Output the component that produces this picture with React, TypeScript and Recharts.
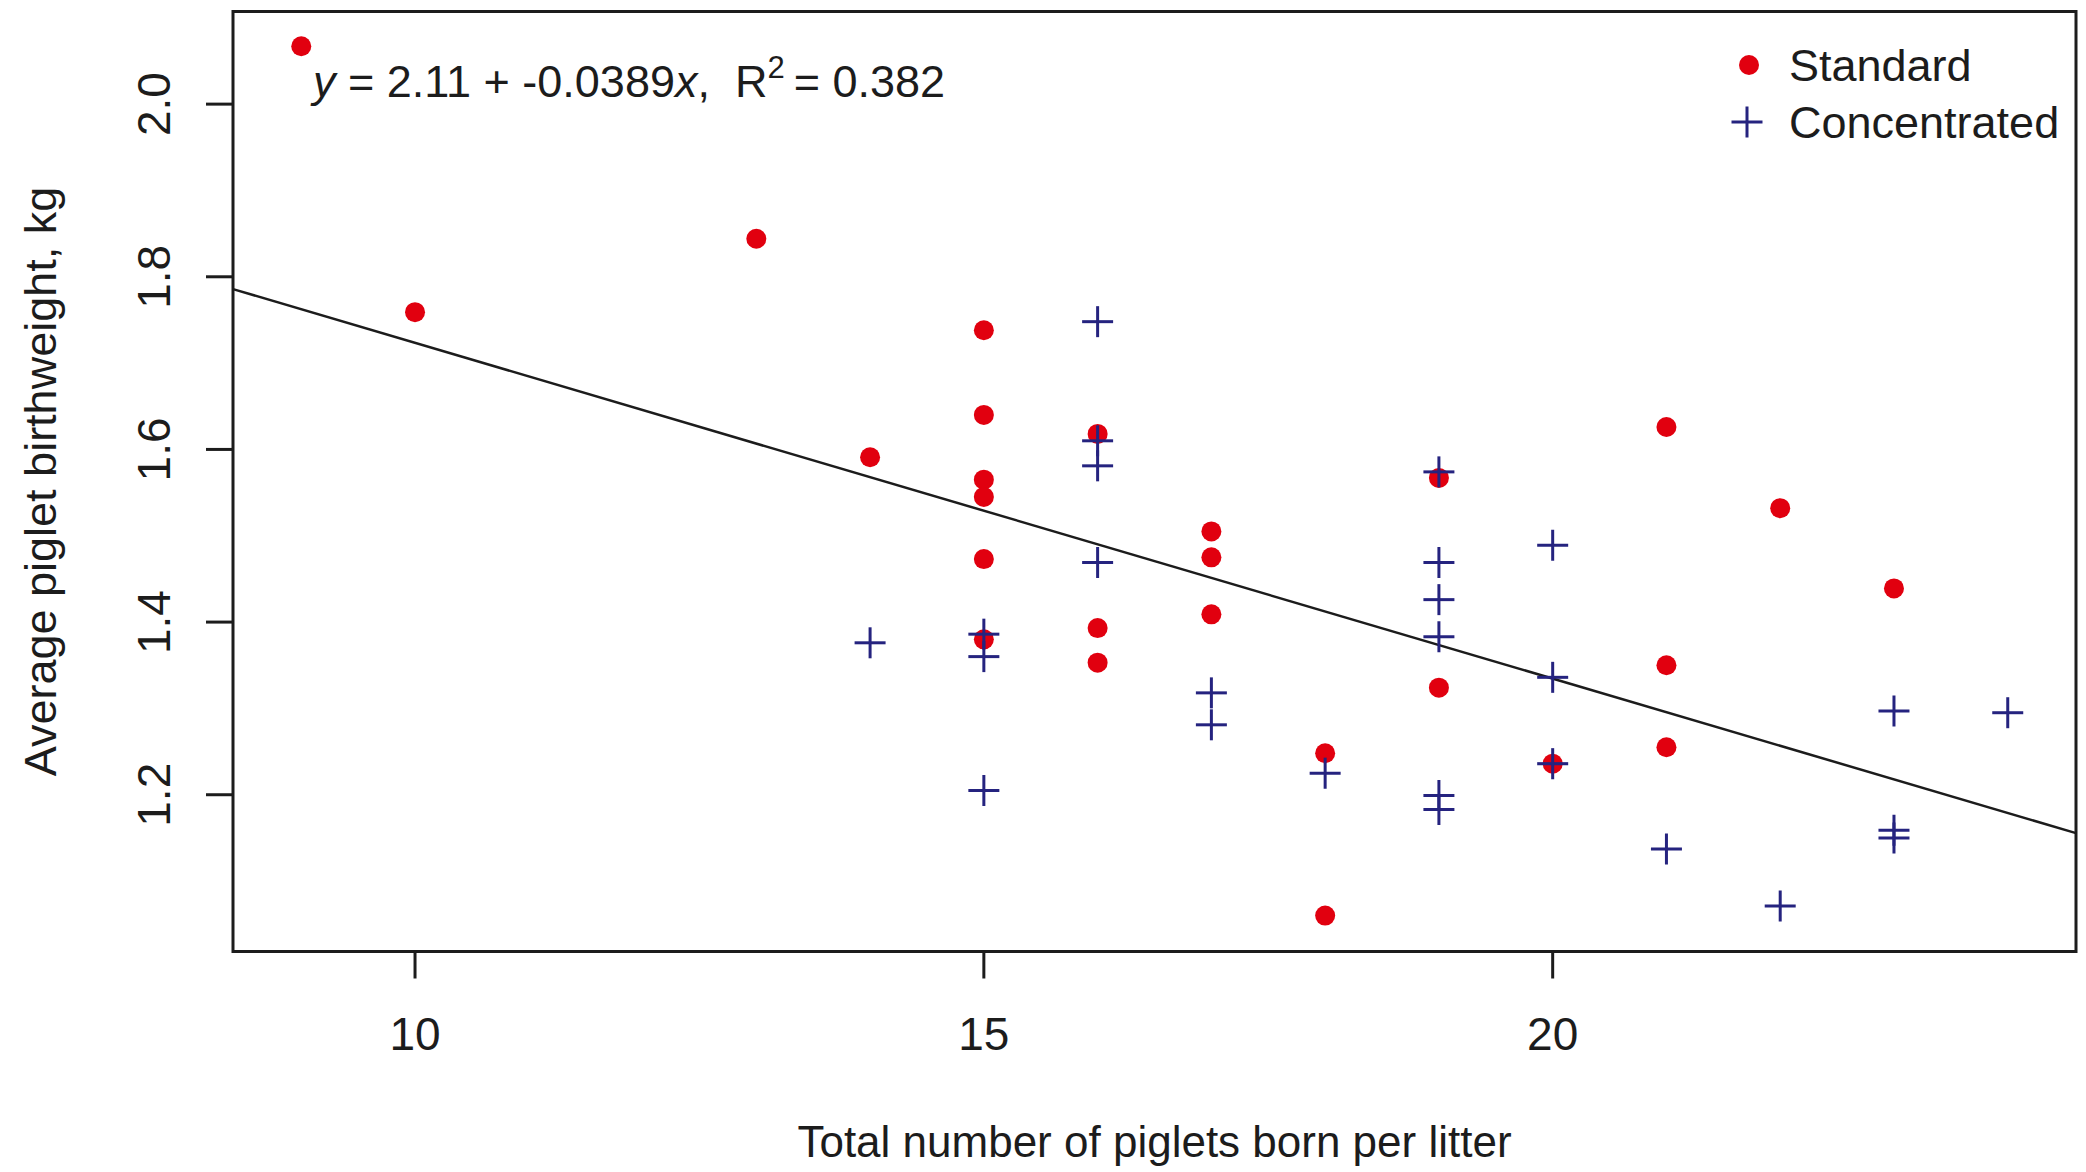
import {
  ScatterChart,
  Scatter,
  XAxis,
  YAxis,
  ReferenceLine,
  ReferenceArea,
  Legend,
  Label,
} from 'recharts';

// litter size vs average piglet birthweight
const standardLitter = [9, 10, 13, 14, 15, 15, 15, 15, 15, 15, 16, 16, 16, 17, 17, 17, 18, 18, 19, 19, 20, 21, 21, 21, 22, 23];
const standardWeight = [2.067, 1.759, 1.844, 1.591, 1.738, 1.64, 1.565, 1.545, 1.473, 1.38, 1.618, 1.393, 1.353, 1.505, 1.475, 1.409, 1.248, 1.06, 1.567, 1.324, 1.236, 1.626, 1.35, 1.255, 1.532, 1.439];

const concentratedLitter = [14, 15, 15, 15, 16, 16, 16, 16, 17, 17, 18, 19, 19, 19, 19, 19, 19, 20, 20, 20, 21, 22, 23, 23, 23, 24];
const concentratedWeight = [1.376, 1.386, 1.36, 1.205, 1.748, 1.61, 1.581, 1.469, 1.318, 1.281, 1.225, 1.574, 1.469, 1.426, 1.383, 1.199, 1.183, 1.489, 1.336, 1.236, 1.137, 1.071, 1.297, 1.159, 1.15, 1.295];

const seriesNames = ['Standard', 'Concentrated'];

const xTicks = [10, 15, 20];
const yTicks = [1.2, 1.4, 1.6, 1.8, 2.0];

// fitted line and its printed summary
const intercept = 2.1125;
const slope = -0.0389;
const interceptLabel = '2.11';
const slopeLabel = '-0.0389';
const r2Label = '0.382';

const X_DOMAIN: [number, number] = [8.4, 24.6];
const Y_DOMAIN: [number, number] = [1.0184, 2.1073];

const FONT = '"Liberation Sans", Arial, Helvetica, sans-serif';
const INK = '#1c1c1c';
const RED = '#e1000f';
const NAVY = '#25237f';

const standard = standardLitter.map((x, i) => ({ x, y: standardWeight[i] }));
const concentrated = concentratedLitter.map((x, i) => ({ x, y: concentratedWeight[i] }));

const fitSegment = X_DOMAIN.map((x) => ({ x, y: intercept + slope * x }));

function RedDot(props: any) {
  const { cx, cy } = props;
  return <circle cx={cx} cy={cy} r={10} fill={RED} />;
}

function BlueCross(props: any) {
  const { cx, cy } = props;
  const h = 15.5;
  return (
    <g stroke={NAVY} strokeWidth={3}>
      <line x1={cx - h} y1={cy} x2={cx + h} y2={cy} />
      <line x1={cx} y1={cy - h} x2={cx} y2={cy + h} />
    </g>
  );
}

function XTick(props: any) {
  const { x, y, payload } = props;
  return (
    <text x={x} y={y + 71} textAnchor="middle" fontSize={46} fontFamily={FONT} fill={INK}>
      {payload.value}
    </text>
  );
}

function YTick(props: any) {
  const { x, y, payload } = props;
  const tx = x - 36;
  return (
    <text
      x={tx}
      y={y}
      transform={`rotate(-90 ${tx} ${y})`}
      textAnchor="middle"
      fontSize={46}
      fontFamily={FONT}
      fill={INK}
    >
      {Number(payload.value).toFixed(1)}
    </text>
  );
}

function Equation(props: any) {
  const vb = props.viewBox;
  return (
    <text
      x={vb.x + 80}
      y={vb.y + 85}
      fontSize={45}
      fontFamily={FONT}
      fill={INK}
      style={{ whiteSpace: 'pre' }}
    >
      <tspan fontStyle="italic">y</tspan>
      <tspan>{` = ${interceptLabel} + ${slopeLabel}`}</tspan>
      <tspan fontStyle="italic">x</tspan>
      <tspan>{',  R'}</tspan>
      <tspan dy={-19} fontSize={31}>2</tspan>
      <tspan dy={19}>{`\u2009= ${r2Label}`}</tspan>
    </text>
  );
}

function LegendBox(props: any) {
  const items = [...(props.payload || [])].sort(
    (a: any, b: any) => seriesNames.indexOf(a.value) - seriesNames.indexOf(b.value)
  );
  return (
    <svg width={366} height={120} style={{ overflow: 'visible' }}>
      {items.map((entry: any, i: number) => {
        const cy = 22 + i * 57;
        return (
          <g key={entry.value}>
            {entry.value === 'Standard' ? (
              <circle cx={29} cy={cy} r={10} fill={RED} />
            ) : (
              <BlueCross cx={27} cy={cy} />
            )}
            <text x={69} y={cy + 16} fontSize={45} fontFamily={FONT} fill={INK}>
              {entry.value}
            </text>
          </g>
        );
      })}
    </svg>
  );
}

export default function App() {
  return (
    <div style={{ position: 'absolute', left: 0, top: 0, width: 2086, height: 1172, background: '#fff' }}>
      <ScatterChart width={2086} height={1172} margin={{ top: 11.5, right: 10, bottom: 0, left: 0 }}>
        <XAxis
          type="number"
          dataKey="x"
          domain={X_DOMAIN}
          ticks={xTicks}
          allowDataOverflow
          height={220.5}
          axisLine={false}
          tickSize={27}
          tickMargin={0}
          tickLine={{ stroke: INK, strokeWidth: 3 }}
          tick={<XTick />}
        >
          <Label
            content={(p: any) => (
              <text
                x={p.viewBox.x + p.viewBox.width / 2}
                y={p.viewBox.y + 205}
                textAnchor="middle"
                fontSize={44}
                fontFamily={FONT}
                fill={INK}
              >
                Total number of piglets born per litter
              </text>
            )}
          />
        </XAxis>
        <YAxis
          type="number"
          dataKey="y"
          domain={Y_DOMAIN}
          ticks={yTicks}
          allowDataOverflow
          width={233}
          axisLine={false}
          tickSize={27}
          tickMargin={0}
          tickLine={{ stroke: INK, strokeWidth: 3 }}
          tick={<YTick />}
        >
          <Label
            content={(p: any) => {
              const cx = 56;
              const cy = p.viewBox.y + p.viewBox.height / 2;
              return (
                <text
                  x={cx}
                  y={cy}
                  transform={`rotate(-90 ${cx} ${cy})`}
                  textAnchor="middle"
                  fontSize={45}
                  fontFamily={FONT}
                  fill={INK}
                >
                  Average piglet birthweight, kg
                </text>
              );
            }}
          />
        </YAxis>
        <ReferenceArea
          x1={X_DOMAIN[0]}
          x2={X_DOMAIN[1]}
          y1={Y_DOMAIN[0]}
          y2={Y_DOMAIN[1]}
          fill="none"
          fillOpacity={0}
          stroke={INK}
          strokeWidth={3}
          ifOverflow="visible"
          label={<Equation />}
        />
        <ReferenceLine segment={fitSegment} stroke={INK} strokeWidth={2.5} ifOverflow="visible" />
        <Scatter name="Standard" data={standard} fill={RED} shape={<RedDot />} isAnimationActive={false} />
        <Scatter name="Concentrated" data={concentrated} fill={NAVY} shape={<BlueCross />} isAnimationActive={false} />
        <Legend
          layout="horizontal"
          verticalAlign="middle"
          align="center"
          content={<LegendBox />}
          wrapperStyle={{ left: 1720, top: 43, width: 366, height: 120 }}
        />
      </ScatterChart>
    </div>
  );
}
